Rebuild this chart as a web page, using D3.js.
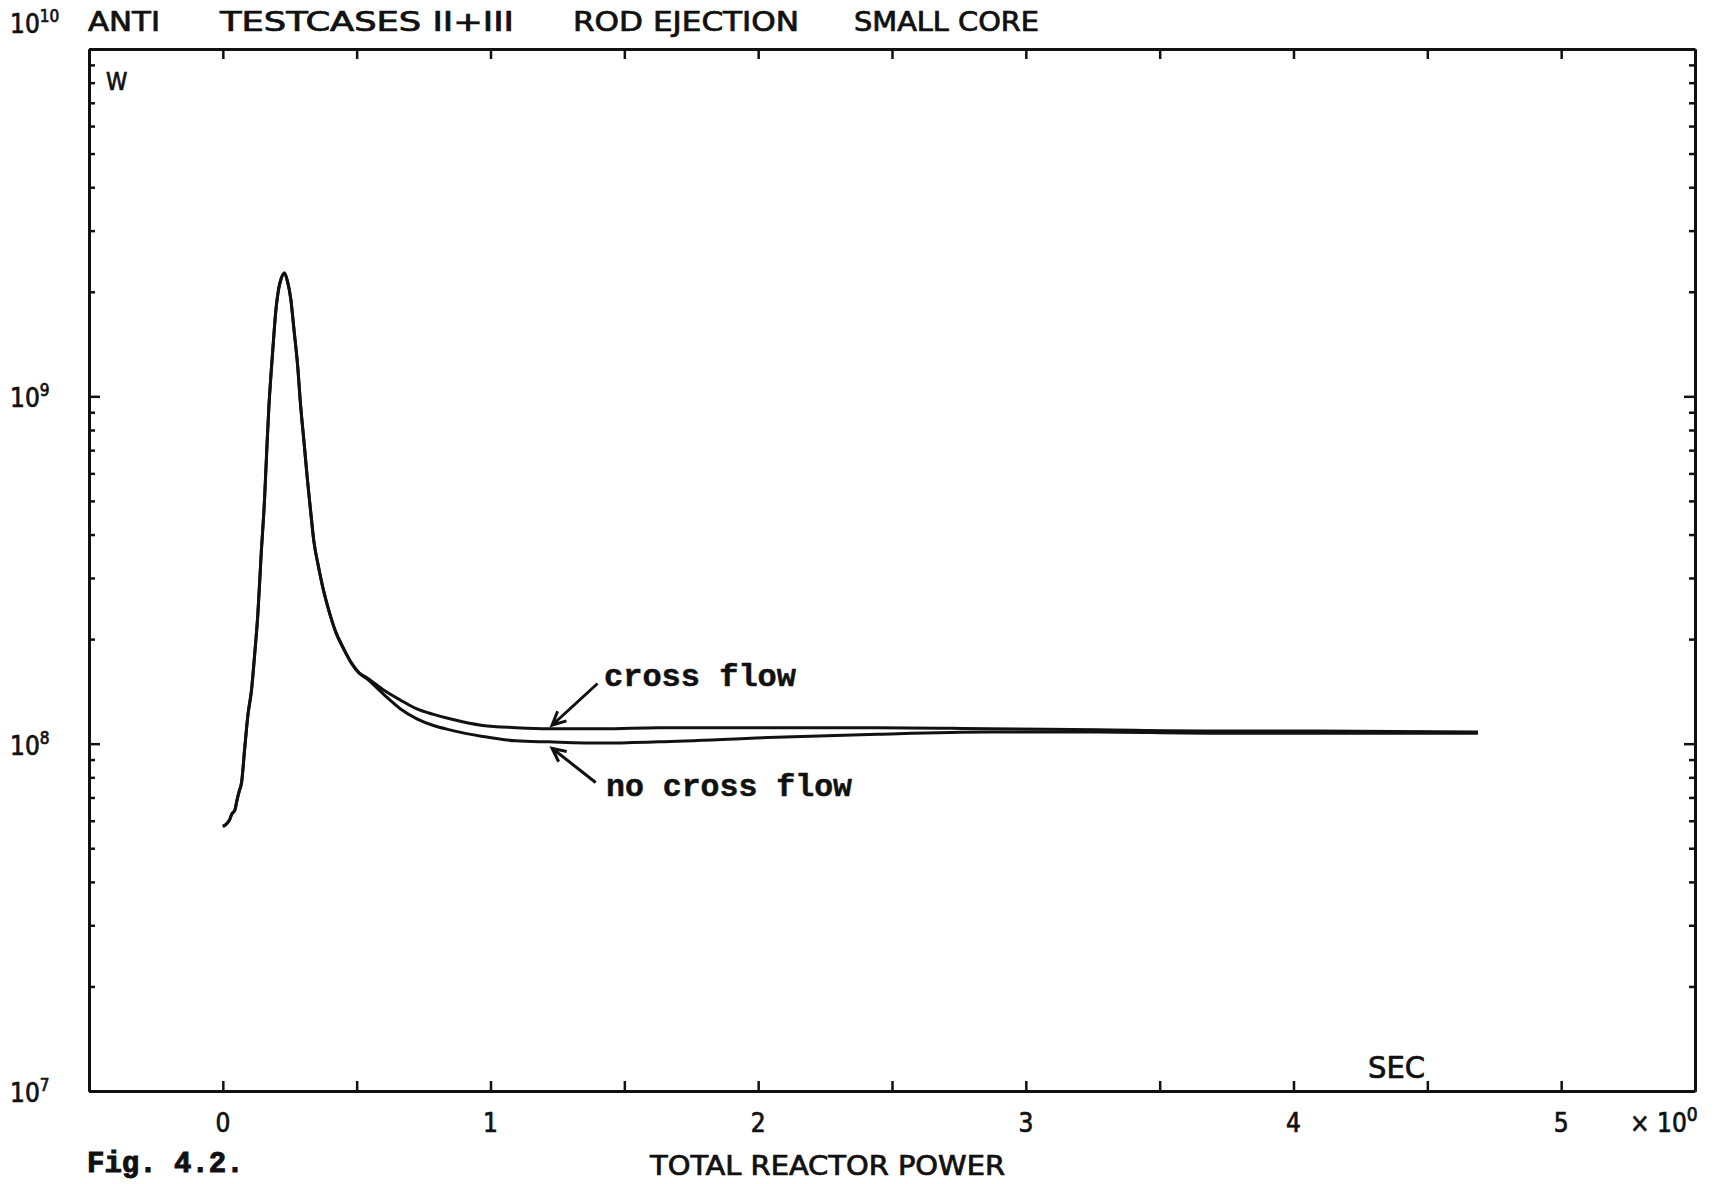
<!DOCTYPE html>
<html>
<head>
<meta charset="utf-8">
<script src="https://cdn.jsdelivr.net/npm/d3@7"></script>
<style>
body { margin: 0; background: #fff; }
text { fill: #111; }
.plotter { font-family: "DejaVu Sans Condensed", "DejaVu Sans", sans-serif; stroke: #111; stroke-width: 0.7px; }
.typed { font-family: "Liberation Mono", "DejaVu Sans Mono", monospace; font-weight: bold; stroke: #111; stroke-width: 0.5px; }
.axis path, .axis line { stroke: #111; }
</style>
</head>
<body>
<svg id="chart" width="1720" height="1184"></svg>
<script>
// time (s) and total reactor power (W)
// the pulse is common to both runs
var pulseTime = [0, 0.012, 0.025, 0.033, 0.045, 0.053, 0.061, 0.070, 0.082, 0.094,
  0.107, 0.119, 0.131, 0.143, 0.156, 0.164, 0.172, 0.180, 0.189, 0.197,
  0.209, 0.217, 0.230, 0.242, 0.254, 0.266, 0.279, 0.291, 0.303, 0.316,
  0.328, 0.340, 0.357, 0.377, 0.398, 0.422, 0.451, 0.480, 0.508];
var pulsePower = [5.78e7, 5.86e7, 6.03e7, 6.26e7, 6.44e7, 6.88e7, 7.29e7, 7.73e7, 9.75e7, 1.214e8,
  1.424e8, 1.811e8, 2.371e8, 3.487e8, 5.09e8, 6.96e8, 9.32e8, 1.159e9, 1.442e9, 1.730e9,
  2.046e9, 2.169e9, 2.265e9, 2.137e9, 1.902e9, 1.551e9, 1.238e9, 9.32e8, 7.43e8, 5.76e8,
  4.67e8, 3.83e8, 3.243e8, 2.744e8, 2.388e8, 2.095e8, 1.878e8, 1.709e8, 1.601e8];

// after the pulse the two runs split
var tailTime = [0.541, 0.602, 0.664, 0.725, 0.787, 0.848, 0.971, 1.094, 1.217, 1.422,
  1.627, 2.037, 2.447, 2.857, 3.266, 3.676, 4.086, 4.689];
var crossFlowPower = [1.543e8, 1.424e8, 1.334e8, 1.259e8, 1.214e8, 1.179e8, 1.128e8, 1.112e8, 1.104e8, 1.104e8,
  1.112e8, 1.112e8, 1.112e8, 1.104e8, 1.096e8, 1.088e8, 1.088e8, 1.080e8];
var noCrossFlowPower = [1.532e8, 1.384e8, 1.259e8, 1.179e8, 1.128e8, 1.096e8, 1.049e8, 1.019e8, 1.012e8, 1.004e8,
  1.012e8, 1.041e8, 1.065e8, 1.080e8, 1.080e8, 1.072e8, 1.072e8, 1.072e8];

// axis ticks and labels
var xTicks = [0, 0.5, 1, 1.5, 2, 2.5, 3, 3.5, 4, 4.5, 5];
var xLabels = [0, 1, 2, 3, 4, 5];
var yDecades = [1e7, 1e8, 1e9, 1e10];
var yDecadeExp = ["7", "8", "9", "10"];

var plotLeft = 89, plotRight = 1695, plotTop = 49, plotBottom = 1091;

var svg = d3.select("#chart");
svg.append("rect").attr("width", 1720).attr("height", 1184).attr("fill", "#fff");

var x = d3.scaleLinear().domain([-0.5, 5.5]).range([plotLeft, plotRight]);
var y = d3.scaleLog().domain([1e7, 1e10]).range([plotBottom, plotTop]);

var yMinor = y.ticks().filter(function(v) { return yDecades.indexOf(v) < 0; });

//Frame with inward ticks
function styleAxis(g) {
  g.attr("class", "axis");
  g.select(".domain").attr("stroke-width", 3);
  g.selectAll(".tick line").attr("stroke-width", 2.5);
}
svg.append("g").attr("transform", "translate(0," + plotBottom + ")")
  .call(d3.axisBottom(x).tickValues(xTicks).tickSize(-10).tickSizeOuter(0).tickFormat(""))
  .call(styleAxis);
svg.append("g").attr("transform", "translate(0," + plotTop + ")")
  .call(d3.axisTop(x).tickValues(xTicks).tickSize(-10).tickSizeOuter(0).tickFormat(""))
  .call(styleAxis);
svg.append("g").attr("transform", "translate(" + plotLeft + ",0)")
  .call(d3.axisLeft(y).tickValues(yDecades).tickSize(-11).tickSizeOuter(0).tickFormat(""))
  .call(styleAxis);
svg.append("g").attr("transform", "translate(" + plotLeft + ",0)")
  .call(d3.axisLeft(y).tickValues(yMinor).tickSize(-6).tickSizeOuter(0).tickFormat(""))
  .call(styleAxis);
svg.append("g").attr("transform", "translate(" + plotRight + ",0)")
  .call(d3.axisRight(y).tickValues(yDecades).tickSize(-11).tickSizeOuter(0).tickFormat(""))
  .call(styleAxis);
svg.append("g").attr("transform", "translate(" + plotRight + ",0)")
  .call(d3.axisRight(y).tickValues(yMinor).tickSize(-6).tickSizeOuter(0).tickFormat(""))
  .call(styleAxis);

//Curves
var line = d3.line()
  .curve(d3.curveMonotoneX)
  .x(function(d) { return x(d[0]); })
  .y(function(d) { return y(d[1]); });

function series(tail) {
  var pts = pulseTime.map(function(t, i) { return [t, pulsePower[i]]; });
  return pts.concat(tailTime.map(function(t, i) { return [t, tail[i]]; }));
}

svg.append("path").datum(series(crossFlowPower))
  .attr("d", line).attr("fill", "none").attr("stroke", "#111")
  .attr("stroke-width", 3).attr("stroke-linejoin", "round");
svg.append("path").datum(series(noCrossFlowPower))
  .attr("d", line).attr("fill", "none").attr("stroke", "#111")
  .attr("stroke-width", 3).attr("stroke-linejoin", "round");

//Tick labels
svg.selectAll(".xlab").data(xLabels).enter().append("text")
  .attr("class", "plotter xlab")
  .attr("x", function(d) { return x(d); })
  .attr("y", 1132)
  .attr("text-anchor", "middle")
  .attr("font-size", 26)
  .text(function(d) { return d; });

var ylab = svg.selectAll(".ylab").data(yDecades).enter().append("text")
  .attr("class", "plotter ylab")
  .attr("x", 10)
  .attr("y", function(d) { return d === 1e10 ? 33 : y(d) + 11; })
  .attr("font-size", 26);
ylab.append("tspan").text("10");
ylab.append("tspan").attr("font-size", 17).attr("dy", -11)
  .text(function(d, i) { return yDecadeExp[i]; });

var mult = svg.append("text").attr("class", "plotter")
  .attr("x", 1630).attr("y", 1132).attr("font-size", 26);
mult.append("tspan").text("\u00d7 10");
mult.append("tspan").attr("font-size", 19).attr("dy", -11).text("0");

//Titles
var titleParts = [["ANTI", 88, 72], ["TESTCASES II+III", 220, 294], ["ROD EJECTION", 573, 226], ["SMALL CORE", 854, 185]];
titleParts.forEach(function(p) {
  svg.append("text").attr("class", "plotter")
    .attr("x", p[1]).attr("y", 31).attr("font-size", 26)
    .attr("textLength", p[2]).attr("lengthAdjust", "spacingAndGlyphs")
    .text(p[0]);
});

svg.append("text").attr("class", "plotter").attr("x", 106).attr("y", 90)
  .attr("font-size", 24).text("W");
svg.append("text").attr("class", "plotter").attr("x", 1368).attr("y", 1078)
  .attr("font-size", 30).attr("textLength", 57).attr("lengthAdjust", "spacingAndGlyphs").text("SEC");
svg.append("text").attr("class", "plotter").attr("x", 650).attr("y", 1175)
  .attr("font-size", 26).attr("textLength", 355).attr("lengthAdjust", "spacingAndGlyphs")
  .text("TOTAL REACTOR POWER");
svg.append("text").attr("class", "typed").attr("x", 87).attr("y", 1172)
  .attr("font-size", 29).style("stroke-width", "1px").text("Fig. 4.2.");

//Annotations with arrows
function arrow(t0, v0, t1, v1) {
  var x0 = x(t0), y0 = y(v0), x1 = x(t1), y1 = y(v1);
  var a = Math.atan2(y1 - y0, x1 - x0), h = 15, s = 0.45;
  svg.append("path")
    .attr("d", "M" + x0 + "," + y0 + "L" + x1 + "," + y1 +
      "M" + (x1 - h * Math.cos(a - s)) + "," + (y1 - h * Math.sin(a - s)) +
      "L" + x1 + "," + y1 +
      "L" + (x1 - h * Math.cos(a + s)) + "," + (y1 - h * Math.sin(a + s)))
    .attr("fill", "none").attr("stroke", "#111").attr("stroke-width", 3)
    .attr("stroke-linejoin", "miter");
}
arrow(1.40, 1.49e8, 1.23, 1.13e8);
arrow(1.393, 7.73e7, 1.23, 9.7e7);

svg.append("text").attr("class", "typed").attr("x", 604).attr("y", 686)
  .attr("font-size", 31).attr("textLength", 192).attr("lengthAdjust", "spacingAndGlyphs")
  .text("cross flow");
svg.append("text").attr("class", "typed").attr("x", 606).attr("y", 796)
  .attr("font-size", 31).attr("textLength", 246).attr("lengthAdjust", "spacingAndGlyphs")
  .text("no cross flow");
</script>
</body>
</html>
